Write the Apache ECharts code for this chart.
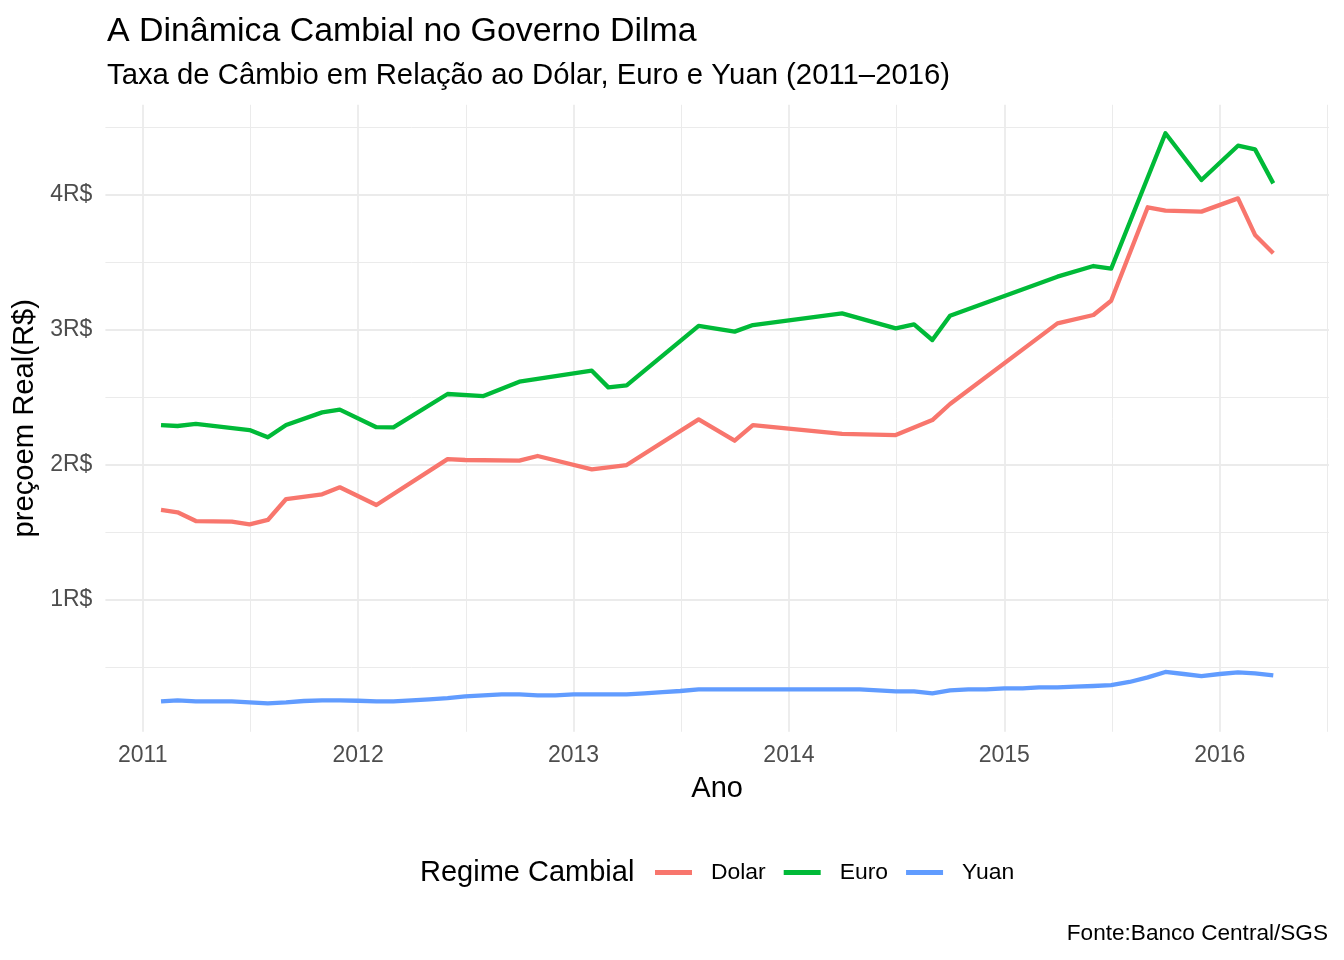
<!DOCTYPE html>
<html lang="pt-BR" style="height: 100%">
<head>
  <meta charset="utf-8">
</head>
<body style="height: 100%; margin: 0; background: #fff">
  <div id="container" style="width: 1344px; height: 960px"></div>
  <script src="https://cdn.jsdelivr.net/npm/echarts@6/dist/echarts.min.js"></script>
  <script type="text/javascript">
    // meses (primeiro dia do mês) e cotações
    var dolarMeses = ['2011-02','2011-03','2011-04','2011-06','2011-07','2011-08','2011-09','2011-11','2011-12',
      '2012-02','2012-06','2012-07','2012-10','2012-11','2013-02','2013-04','2013-08','2013-10','2013-11',
      '2014-04','2014-07','2014-09','2014-10','2015-04','2015-06','2015-07','2015-09','2015-10','2015-12',
      '2016-02','2016-03','2016-04'];
    var dolarValores = [1.667, 1.65, 1.585, 1.58, 1.56, 1.593, 1.748, 1.783, 1.835,
      1.704, 2.044, 2.037, 2.032, 2.067, 1.968, 2.0, 2.338, 2.18, 2.296,
      2.23, 2.222, 2.333, 2.452, 3.049, 3.111, 3.217, 3.909, 3.884, 3.877,
      3.975, 3.704, 3.568];

    var euroMeses = ['2011-02','2011-03','2011-04','2011-07','2011-08','2011-09','2011-11','2011-12',
      '2012-02','2012-03','2012-06','2012-08','2012-10','2013-02','2013-03','2013-04','2013-08','2013-10','2013-11',
      '2014-04','2014-07','2014-08','2014-09','2014-10','2015-04','2015-06','2015-07','2015-10','2015-12',
      '2016-02','2016-03','2016-04'];
    var euroValores = [2.296, 2.289, 2.304, 2.259, 2.205, 2.296, 2.39, 2.41,
      2.28, 2.279, 2.526, 2.511, 2.617, 2.699, 2.575, 2.59, 3.03, 2.988, 3.037,
      3.123, 3.012, 3.042, 2.926, 3.106, 3.395, 3.474, 3.454, 4.457, 4.111,
      4.365, 4.338, 4.086];

    // yuan: mensal de fev/2011 a abr/2016
    var yuanInicio = '2011-02';
    var yuanValores = [
      0.249, 0.257, 0.249, 0.249, 0.249, 0.242, 0.235, 0.242, 0.252, 0.257, 0.257,
      0.254, 0.249, 0.249, 0.257, 0.264, 0.274, 0.287, 0.294, 0.301, 0.301, 0.294, 0.294,
      0.301, 0.301, 0.301, 0.301, 0.309, 0.318, 0.326, 0.338, 0.338, 0.338, 0.338, 0.338,
      0.338, 0.338, 0.338, 0.338, 0.338, 0.331, 0.323, 0.323, 0.309, 0.331, 0.338, 0.338,
      0.346, 0.346, 0.353, 0.353, 0.358, 0.363, 0.370, 0.393, 0.427, 0.467, 0.452, 0.437,
      0.452, 0.464, 0.457, 0.442];

    var seriesNomes = ['Dolar', 'Euro', 'Yuan'];
    var cores = ['#F8766D', '#00BA38', '#619CFF'];

    var fonte = 'Liberation Sans, Arial, sans-serif';

    // data "AAAA-MM" -> ano decimal
    function anoDecimal(s) {
      var p = s.split('-');
      var a = +p[0], m = +p[1];
      var t0 = Date.UTC(a, 0, 1), t1 = Date.UTC(a + 1, 0, 1);
      return a + (Date.UTC(a, m - 1, 1) - t0) / (t1 - t0);
    }
    function mesSeguinte(s, n) {
      var p = s.split('-');
      var idx = (+p[0]) * 12 + (+p[1] - 1) + n;
      var a = Math.floor(idx / 12), m = idx % 12 + 1;
      return a + '-' + (m < 10 ? '0' + m : m);
    }

    var yuanMeses = yuanValores.map(function (v, i) { return mesSeguinte(yuanInicio, i); });

    function pares(meses, valores) {
      return meses.map(function (m, i) { return [anoDecimal(m), valores[i]]; });
    }
    var dados = [pares(dolarMeses, dolarValores), pares(euroMeses, euroValores), pares(yuanMeses, yuanValores)];

    // expansão de 5% como no ggplot
    var xs = [], ys = [];
    dados.forEach(function (d) { d.forEach(function (p) { xs.push(p[0]); ys.push(p[1]); }); });
    function expandir(arr) {
      var lo = Math.min.apply(null, arr), hi = Math.max.apply(null, arr), r = hi - lo;
      return [lo - 0.05 * r, hi + 0.05 * r];
    }
    var xLim = expandir(xs), yLim = expandir(ys);

    var dom = document.getElementById('container');
    var myChart = echarts.init(dom, null, { renderer: 'canvas' });

    var option = {
      animation: false,
      backgroundColor: '#fff',
      textStyle: { fontFamily: fonte },
      title: [
        { text: 'A Dinâmica Cambial no Governo Dilma', left: 107, top: 15, padding: 0,
          textStyle: { fontSize: 33.9, fontWeight: 'normal', color: '#000', fontFamily: fonte } },
        { text: 'Taxa de Câmbio em Relação ao Dólar, Euro e Yuan (2011–2016)', left: 107, top: 61, padding: 0,
          textStyle: { fontSize: 29.3, fontWeight: 'normal', color: '#000', fontFamily: fonte } },
        { text: 'Regime Cambial', left: 420, top: 858, padding: 0,
          textStyle: { fontSize: 29, fontWeight: 'normal', color: '#000', fontFamily: fonte } },
        { text: 'Fonte:Banco Central/SGS', right: 16, top: 922, padding: 0,
          textStyle: { fontSize: 22.6, fontWeight: 'normal', color: '#000', fontFamily: fonte } }
      ],
      legend: {
        data: seriesNomes,
        left: 655,
        top: 861,
        padding: 0,
        icon: 'rect',
        itemWidth: 37,
        itemHeight: 5,
        itemGap: 18,
        selectedMode: false,
        textStyle: { fontSize: 22.9, color: '#000', fontFamily: fonte, padding: [0, 0, 0, 14] }
      },
      grid: { left: 105.4, right: 15.1, top: 104.8, bottom: 228.2, containLabel: false },
      xAxis: {
        type: 'value',
        min: xLim[0],
        max: xLim[1],
        minInterval: 1,
        maxInterval: 1,
        name: 'Ano',
        nameLocation: 'middle',
        nameGap: 43,
        nameTextStyle: { fontSize: 29, color: '#000', fontFamily: fonte },
        axisLine: { show: false },
        axisTick: { show: false },
        axisLabel: {
          margin: 12.5, fontSize: 23, color: '#4d4d4d', fontFamily: fonte,
          formatter: function (v) { return Math.abs(v - Math.round(v)) < 1e-6 ? String(Math.round(v)) : ''; }
        },
        splitLine: { show: true, showMinLine: false, showMaxLine: false, lineStyle: { color: '#ebebeb', width: 1.8 } },
        minorTick: { show: false, splitNumber: 2 },
        minorSplitLine: { show: true, lineStyle: { color: '#ebebeb', width: 1 } }
      },
      yAxis: {
        type: 'value',
        min: yLim[0],
        max: yLim[1],
        minInterval: 1,
        maxInterval: 1,
        name: 'preçoem Real(R$)',
        nameLocation: 'middle',
        nameGap: 53,
        nameTextStyle: { fontSize: 29.2, color: '#000', fontFamily: fonte },
        axisLine: { show: false },
        axisTick: { show: false },
        axisLabel: {
          margin: 13, fontSize: 23, color: '#4d4d4d', fontFamily: fonte,
          padding: [6, 0, 0, 0],
          formatter: function (v) { return Math.abs(v - Math.round(v)) < 1e-6 ? Math.round(v) + 'R$' : ''; }
        },
        splitLine: { show: true, showMinLine: false, showMaxLine: false, lineStyle: { color: '#ebebeb', width: 1.8 } },
        minorTick: { show: false, splitNumber: 2 },
        minorSplitLine: { show: true, lineStyle: { color: '#ebebeb', width: 1 } }
      },
      series: seriesNomes.map(function (nome, i) {
        return {
          name: nome,
          type: 'line',
          data: dados[i],
          showSymbol: false,
          symbol: 'none',
          color: cores[i],
          lineStyle: { width: 4.3, color: cores[i], join: 'round' }
        };
      })
    };

    myChart.setOption(option);
    window.addEventListener('resize', myChart.resize);
  </script>
</body>
</html>
